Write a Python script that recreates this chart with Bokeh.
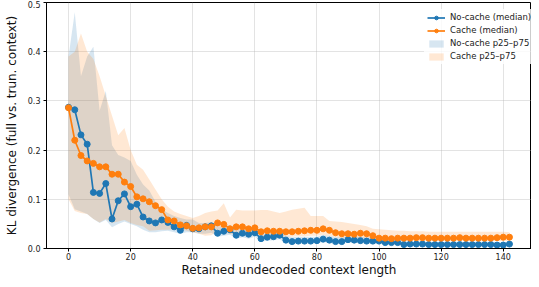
from bokeh.plotting import figure
from bokeh.models import Range1d, Legend, LegendItem, FixedTicker, ColumnDataSource, CustomJSTickFormatter
from bokeh.embed import file_html
from bokeh.resources import INLINE

x_vals = list(range(0, 143, 2))

nocache_median = [
    0.287, 0.282, 0.231, 0.212, 0.114, 0.112, 0.132, 0.060, 0.097, 0.111,
    0.085, 0.090, 0.064, 0.056, 0.052, 0.058, 0.053, 0.044, 0.037, 0.047,
    0.040, 0.040, 0.044, 0.046, 0.031, 0.035, 0.038, 0.027, 0.031, 0.029,
    0.032, 0.020, 0.023, 0.024, 0.027, 0.017, 0.014, 0.015, 0.015, 0.015,
    0.016, 0.019, 0.017, 0.014, 0.014, 0.018, 0.017, 0.016, 0.015, 0.015,
    0.015, 0.012, 0.012, 0.012, 0.008, 0.009, 0.009, 0.009, 0.008, 0.008,
    0.008, 0.008, 0.008, 0.008, 0.008, 0.008, 0.008, 0.008, 0.008, 0.007,
    0.007, 0.009,
]
cache_median = [
    0.286, 0.220, 0.189, 0.178, 0.173, 0.166, 0.166, 0.151, 0.151, 0.135,
    0.126, 0.105, 0.101, 0.095, 0.087, 0.079, 0.058, 0.056, 0.048, 0.046,
    0.041, 0.042, 0.044, 0.044, 0.052, 0.049, 0.040, 0.044, 0.044, 0.040,
    0.042, 0.034, 0.036, 0.035, 0.035, 0.034, 0.034, 0.035, 0.036, 0.037,
    0.037, 0.040, 0.037, 0.032, 0.030, 0.030, 0.029, 0.031, 0.030, 0.026,
    0.021, 0.021, 0.020, 0.021, 0.021, 0.021, 0.022, 0.022, 0.021, 0.021,
    0.021, 0.021, 0.021, 0.022, 0.021, 0.021, 0.021, 0.021, 0.021, 0.022,
    0.023, 0.023,
]
nocache_p75 = [
    0.39, 0.48, 0.35, 0.39, 0.41, 0.28, 0.32, 0.21, 0.19, 0.185,
    0.178, 0.15, 0.13, 0.118, 0.095, 0.08, 0.072, 0.066, 0.062, 0.059,
    0.059, 0.052, 0.052, 0.054, 0.045, 0.045, 0.048, 0.040, 0.042, 0.038,
    0.042, 0.030, 0.032, 0.033, 0.036, 0.026, 0.023, 0.024, 0.024, 0.024,
    0.024, 0.028, 0.026, 0.023, 0.023, 0.026, 0.025, 0.024, 0.023, 0.023,
    0.022, 0.019, 0.018, 0.018, 0.014, 0.014, 0.014, 0.014, 0.013, 0.013,
    0.013, 0.013, 0.013, 0.013, 0.013, 0.013, 0.013, 0.013, 0.013, 0.012,
    0.012, 0.014,
]
nocache_p25 = [
    0.11, 0.08, 0.075, 0.07, 0.06, 0.052, 0.058, 0.043, 0.05, 0.055,
    0.05, 0.045, 0.038, 0.033, 0.033, 0.035, 0.036, 0.033, 0.03, 0.033,
    0.033, 0.030, 0.030, 0.032, 0.024, 0.026, 0.028, 0.020, 0.023, 0.020,
    0.024, 0.014, 0.016, 0.017, 0.019, 0.011, 0.009, 0.010, 0.010, 0.010,
    0.010, 0.013, 0.011, 0.009, 0.009, 0.012, 0.011, 0.011, 0.010, 0.010,
    0.010, 0.008, 0.008, 0.008, 0.005, 0.005, 0.005, 0.005, 0.005, 0.005,
    0.005, 0.005, 0.005, 0.005, 0.005, 0.005, 0.005, 0.005, 0.005, 0.005,
    0.005, 0.006,
]
cache_p75 = [
    0.39, 0.40, 0.437, 0.40, 0.385, 0.35, 0.31, 0.27, 0.23, 0.245,
    0.20, 0.17, 0.16, 0.14, 0.12, 0.10, 0.085, 0.075, 0.07, 0.066,
    0.062, 0.066, 0.072, 0.075, 0.077, 0.092, 0.063, 0.079, 0.077, 0.077,
    0.077, 0.078, 0.078, 0.075, 0.072, 0.075, 0.079, 0.081, 0.083, 0.066,
    0.066, 0.066, 0.056, 0.055, 0.054, 0.052, 0.050, 0.048, 0.045, 0.040,
    0.039, 0.038, 0.037, 0.036, 0.036, 0.035, 0.035, 0.035, 0.034, 0.034,
    0.034, 0.034, 0.034, 0.034, 0.034, 0.034, 0.034, 0.034, 0.034, 0.034,
    0.034, 0.033,
]
cache_p25 = [
    0.10, 0.076, 0.072, 0.07, 0.06, 0.053, 0.06, 0.052, 0.055, 0.058,
    0.052, 0.048, 0.045, 0.036, 0.037, 0.038, 0.038, 0.039, 0.039, 0.036,
    0.033, 0.030, 0.026, 0.027, 0.036, 0.035, 0.029, 0.031, 0.031, 0.028,
    0.029, 0.024, 0.025, 0.024, 0.024, 0.024, 0.024, 0.025, 0.025, 0.026,
    0.026, 0.028, 0.026, 0.023, 0.021, 0.021, 0.020, 0.021, 0.021, 0.018,
    0.015, 0.015, 0.015, 0.015, 0.015, 0.015, 0.015, 0.015, 0.015, 0.015,
    0.015, 0.015, 0.015, 0.015, 0.015, 0.015, 0.015, 0.015, 0.015, 0.015,
    0.015, 0.016,
]

x_ticks = [0, 20, 40, 60, 80, 100, 120, 140]
y_ticks = [0.0, 0.1, 0.2, 0.3, 0.4, 0.5]

BLUE = "#1f77b4"
ORANGE = "#ff7f0e"
FONT = "DejaVu Sans"

src = ColumnDataSource(dict(
    x=x_vals, nb=nocache_median, cb=cache_median,
    n_lo=nocache_p25, n_hi=nocache_p75, c_lo=cache_p25, c_hi=cache_p75,
))

p = figure(
    width=531, height=279, output_backend="svg", toolbar_location=None,
    x_range=Range1d(-7.1, 149.1), y_range=Range1d(0, 0.5),
    min_border_left=46, min_border_right=0, min_border_top=2, min_border_bottom=0,
)
p.background_fill_color = "white"
p.border_fill_color = "white"
p.outline_line_color = "black"
p.outline_line_width = 1

band_n = p.varea(x="x", y1="n_lo", y2="n_hi", source=src, fill_color=BLUE, fill_alpha=0.18)
band_c = p.varea(x="x", y1="c_lo", y2="c_hi", source=src, fill_color=ORANGE, fill_alpha=0.18)

ln_n = p.line(x="x", y="nb", source=src, line_color=BLUE, line_width=1.7)
sc_n = p.scatter(x="x", y="nb", source=src, size=6, fill_color=BLUE, line_color=BLUE)
ln_c = p.line(x="x", y="cb", source=src, line_color=ORANGE, line_width=1.7)
sc_c = p.scatter(x="x", y="cb", source=src, size=6, fill_color=ORANGE, line_color=ORANGE)

for ax in (p.xaxis[0], p.yaxis[0]):
    ax.major_label_text_font = FONT
    ax.major_label_text_font_size = "8px"
    ax.major_label_text_color = "#222222"
    ax.axis_label_text_font = FONT
    ax.axis_label_text_font_size = "12px"
    ax.axis_label_text_font_style = "normal"
    ax.axis_label_text_color = "#111111"
    ax.major_tick_in = 0
    ax.major_tick_out = 3
    ax.minor_tick_line_color = None
    ax.axis_line_color = "black"
    ax.major_tick_line_color = "black"

p.xaxis[0].ticker = FixedTicker(ticks=x_ticks)
p.yaxis[0].ticker = FixedTicker(ticks=y_ticks)
p.xaxis[0].axis_label = "Retained undecoded context length"
p.yaxis[0].axis_label = "KL divergence (full vs. trun. context)"
p.yaxis[0].formatter = CustomJSTickFormatter(code="return tick.toFixed(1);")
p.xaxis[0].major_label_standoff = 1
p.yaxis[0].major_label_standoff = 3
p.xaxis[0].axis_label_standoff = 0
p.yaxis[0].axis_label_standoff = 6

p.xgrid.ticker = FixedTicker(ticks=x_ticks)
p.ygrid.ticker = FixedTicker(ticks=y_ticks)
for g in (p.xgrid, p.ygrid):
    g.grid_line_color = "#b0b0b0"
    g.grid_line_alpha = 0.35
    g.grid_line_width = 1

legend = Legend(items=[
    LegendItem(label="No-cache (median)", renderers=[ln_n, sc_n]),
    LegendItem(label="Cache (median)", renderers=[ln_c, sc_c]),
    LegendItem(label="No-cache p25\u2013p75", renderers=[band_n]),
    LegendItem(label="Cache p25\u2013p75", renderers=[band_c]),
], location=(378, 184))
legend.label_text_font = FONT
legend.label_text_font_size = "8.5px"
legend.label_text_color = "#222222"
legend.border_line_alpha = 0
legend.background_fill_alpha = 0.8
legend.glyph_width = 18
legend.glyph_height = 9
legend.label_height = 9
legend.label_standoff = 5
legend.spacing = 3
legend.padding = 3
legend.margin = 0
p.add_layout(legend)

open("out.html", "w").write(file_html(p, INLINE))
